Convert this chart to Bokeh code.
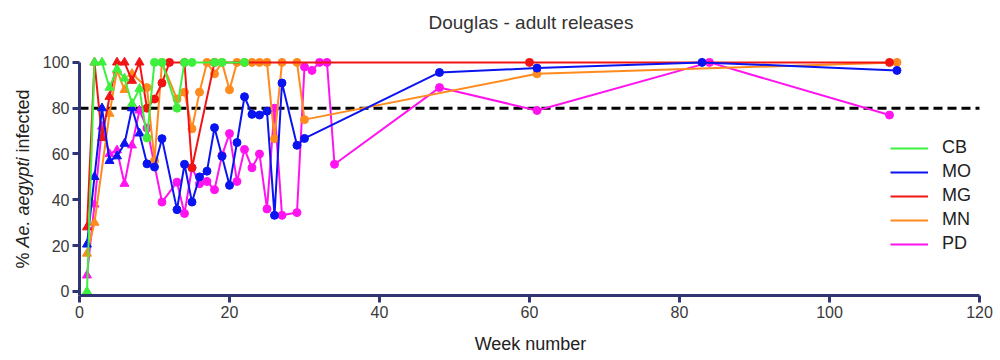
from bokeh.plotting import figure
from bokeh.models import ColumnDataSource, Legend, LegendItem, Label, Range1d
from bokeh.embed import file_html
from bokeh.resources import INLINE
import math

# ---------------- data ----------------
cb_weeks = [1, 2, 3, 4, 5, 6, 7, 8, 9, 10, 11, 13, 14, 15, 18, 19, 22]
cb_vals = [0, 100, 100, 89, 97, 93, 82, 88.5, 67, 100, 100, 80, 100, 100, 100, 100, 100]

mo_weeks = [1, 2, 3, 4, 5, 6, 7, 8, 9, 10, 11, 13, 14, 15, 16, 17, 18, 19, 20, 21, 22,
            23, 24, 25, 26, 27, 29, 30, 48, 61, 83, 109]
mo_vals = [20.5, 50, 80, 57, 59, 64.5, 80, 69, 55.7, 54.3, 66.7, 35.7, 55.5, 39, 50, 52.5,
           71.5, 59, 46.3, 65, 85, 77.3, 77, 78.7, 33.2, 91, 63.8, 66.8, 95.6, 97.5, 100, 96.5]

mg_weeks = [1, 2, 3, 4, 5, 6, 7, 8, 9, 10, 11, 12, 14, 15, 18, 60, 108]
mg_vals = [28, 100, 67, 85, 100, 100, 92, 100, 80, 84, 91, 100, 100, 54, 100, 100, 100]

mn_weeks = [1, 2, 4, 5, 6, 7, 9, 10, 11, 13, 14, 15, 16, 17, 18, 19, 20, 21, 22, 23, 24,
            25, 26, 27, 29, 30, 61, 109]
mn_vals = [16.5, 30, 77.6, 96.5, 88, 95, 89, 57, 100, 84, 87, 71, 87, 100, 95, 100, 88,
           100, 100, 100, 100, 100, 66.7, 100, 100, 75, 95, 100]

pd_weeks = [1, 2, 3, 4, 5, 6, 7, 8, 9, 11, 13, 14, 15, 16, 17, 18, 19, 20, 21, 22, 23, 24,
            25, 26, 27, 29, 30, 31, 32, 33, 34, 48, 61, 84, 108]
pd_vals = [7, 38, 72, 60, 61.6, 47, 63.8, 79, 71.3, 39, 47.7, 34, 54, 47, 48, 44.4, 59.4,
           68.9, 48, 62, 54, 60, 36, 80, 33.2, 34.4, 98, 96.5, 100, 100, 55.5, 89, 79, 100, 77]

series_names = ["CB", "MO", "MG", "MN", "PD"]
threshold_x = [0, 120]
threshold_y = [80, 80]
x_ticks = [0, 20, 40, 60, 80, 100, 120]
y_ticks = [0, 20, 40, 60, 80, 100]

# ---------------- styles ----------------
colors = ["#3EF03E", "#0A14F0", "#F01414", "#FF8A1E", "#FF14F0"]
axis_color = "#2F3573"
FONT = "Liberation Sans"

p = figure(width=996, height=358, output_backend="svg", toolbar_location=None,
           x_range=Range1d(-10.533, 122.27), y_range=Range1d(-29.31, 109.12),
           min_border_left=0, min_border_right=0, min_border_top=0, min_border_bottom=0)
p.title.text = "Douglas - adult releases"
p.title.align = "left"
p.title.offset = 428
p.title.text_font = FONT
p.title.text_font_size = "19px"
p.title.text_font_style = "normal"
p.title.text_color = "#333333"
p.title.standoff = 18
p.outline_line_color = None
p.grid.visible = False
p.background_fill_color = "white"
p.border_fill_color = "white"

for ax in (p.xaxis[0], p.yaxis[0]):
    ax.axis_line_color = axis_color
    ax.axis_line_width = 3
    ax.major_tick_line_color = axis_color
    ax.major_tick_line_width = 3
    ax.minor_tick_line_color = axis_color
    ax.minor_tick_line_width = 3
    ax.major_tick_in = 0
    ax.minor_tick_in = 0
    ax.major_tick_out = 7
    ax.minor_tick_out = 5
    ax.major_label_text_font = FONT
    ax.major_label_text_font_size = "16px"
    ax.major_label_text_color = "#3a3a3a"
    ax.major_label_standoff = 3

p.xaxis.ticker = x_ticks
p.xaxis[0].ticker.num_minor_ticks = 10
p.xaxis.bounds = (0, 120)
p.xaxis.fixed_location = -1.8

p.yaxis.ticker = y_ticks
p.yaxis[0].ticker.num_minor_ticks = 2
p.yaxis.bounds = (-1.8, 100)
p.yaxis.fixed_location = 0

# threshold line
p.line(threshold_x, threshold_y, line_color="black", line_width=3, line_dash="9 5")

all_weeks = [cb_weeks, mo_weeks, mg_weeks, mn_weeks, pd_weeks]
all_vals = [cb_vals, mo_vals, mg_vals, mn_vals, pd_vals]
line_renderers = {}
# draw last series first so that CB ends on top
for name, wk, vals, col in reversed(list(zip(series_names, all_weeks, all_vals, colors))):
    src = ColumnDataSource(dict(
        x=wk, y=vals,
        marker=["triangle" if w <= 8 else "circle" for w in wk],
        size=[9 if w <= 8 else 8 for w in wk],
    ))
    r = p.line("x", "y", source=src, line_color=col, line_width=2)
    p.scatter("x", "y", source=src, marker="marker", size="size",
              fill_color=col, line_color=col)
    line_renderers[name] = r

items = [LegendItem(label=n, renderers=[line_renderers[n]]) for n in series_names]
legend = Legend(items=items, location=(890, 104), orientation="vertical",
                glyph_width=38, glyph_height=20, spacing=3, padding=0, margin=0,
                label_standoff=14, label_text_font=FONT, label_text_font_size="18px",
                label_text_color="#222222", border_line_color=None,
                background_fill_alpha=0)
p.add_layout(legend, "center")

# x axis label
p.add_layout(Label(x=530, y=15, x_units="screen", y_units="screen",
                   text="Week number", text_align="center", text_baseline="middle",
                   text_font=FONT, text_font_size="18px", text_color="#222222"))

# y axis label with italic species name
fs = 18
w_pct = (0.889 + 0.278) * fs
w_sp = (5.003 + 0.278) * fs
start = 358 - 268
for txt, off, style in [("%", 0, "normal"), ("Ae. aegypti", w_pct, "italic"),
                        ("infected", w_pct + w_sp, "normal")]:
    p.add_layout(Label(x=22, y=start + off, x_units="screen", y_units="screen",
                       text=txt, angle=math.pi / 2, text_align="left",
                       text_baseline="middle", text_font=FONT,
                       text_font_size=f"{fs}px", text_font_style=style,
                       text_color="#222222"))

open("out.html", "w").write(file_html(p, INLINE))
